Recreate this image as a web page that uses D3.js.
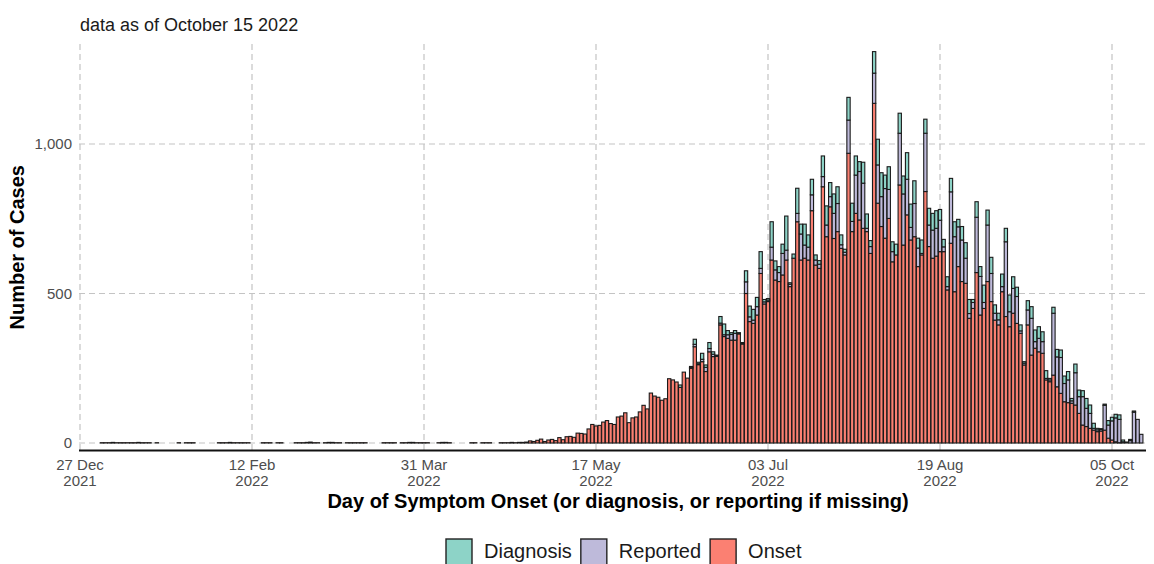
<!DOCTYPE html>
<html>
<head>
<meta charset="utf-8">
<script src="https://cdn.jsdelivr.net/npm/d3@7"></script>
<style>
  body { margin: 0; background: #fff; }
  svg { font-family: "Liberation Sans", Arial, sans-serif; }
</style>
</head>
<body>
<svg id="chart" width="1154" height="564"></svg>
<script>
// daily counts starting 27 Dec 2021, one value per day
var startDate = "2021-12-27";

var onset = [
  0,0,0,0,0,0, 1,1,1,2,1,1,1,1, 1,1,2,1,1,1, 0, 1, 0,0,0,0,0, 1, 0, 1,1,1,
  0,0,0,0,0,0, 1,1,1,2,1,1,1,1,1, 0,0,0, 1,1,1,0,1,1, 0,0,0,
  1,1,1,2,3,1,1,0,1,2,2,1,1,0,1,1,1,1,1,1, 0,0,0,0,
  1,1,1,1,0,1,1,2,2,1,1,1,1, 0,0, 1,2,2,1,0,0, 0,0,0, 1,1,0,1,1,1, 0,0,
  1,1,1,2,1,2,2,3,
  7,5,9,13,5,10,12,8,18,11,21,22,19,33,32,30,47,
  62,57,59,70,75,65,62,87,90,101,68,84,87,104,126,114,167,157,153,143,148,215,211,204,186,237,217,
  250,322,262,272,239,305,289,290,395,356,350,344,344,365,331,500,406,400,428,567,465,473,612,545,540,
  562,612,523,618,740,612,618,612,777,595,584,857,690,790,684,707,651,629,969,707,
  768,746,718,707,634,1136,802,724,685,751,606,629,863,662,763,679,690,590,629,841,657,618,625,640,
  640,512,668,506,590,540,534,417,450,570,428,450,540,473,411,395,506,423,389,434,400,
  367,261,395,294,317,305,300,211,205,227,188,166,138,135,133,127,99,60,55,49,43,38,40,43,16,10,4,1,0,0,0,0,0,0
];

var reported = [].concat(
  d3.range(167).map(function () { return 0; }),
  [2,8,3,8,14,11,8,2,6,6,12,19,23,2,2,39,16,11,28,17,7,5,43,34,30],
  [72,33,8,0,28,87,44,43,53,17,14,34,39,34,84,94,12,9,111,34],
  [128,162,151,11,23,101,128,100,166,97,34,0,173,171,119,42,111,62,5,195,72,94,93,105],
  [16,11,172,184,133,139,84,16,20,185,129,20,189,94,23,17,17,250,50,83,90],
  [8,6,50,123,22,45,39,5,6,207,100,120,61,76,8,108,56,95,61,50,6,6,5,83,44,64,80,78,4,2,8,103,79,29]
);

var diagnosis = [].concat(
  d3.range(164).map(function () { return 0; }),
  [8,0,0],
  [4,17,5,20,8,20,8,2,22,36,14,6,9,2,3,37,36,36,31,56,8,5,85,30,20],
  [31,114,5,14,84,33,70,41,52,17,12,69,64,47,65,56,33,10,76,61],
  [64,33,70,48,20,72,86,80,45,76,33,36,67,60,89,78,76,33,45,47,56,56,59,36],
  [25,33,45,50,25,45,52,47,10,52,33,58,50,54,28,22,42,45,56,39,31],
  [20,5,31,39,39,39,33,26,5,20,25,25,25,28,8,29,22,20,33,28,17,5,3,4,15,12,12,15,6,1,4,4,0,0]
);

var stackKeys = ["Onset", "Reported", "Diagnosis"];
var legendKeys = ["Diagnosis", "Reported", "Onset"];
var colors = { Diagnosis: "#8DD3C7", Reported: "#BEBADA", Onset: "#FB8072" };
var tickDates = ["2021-12-27", "2022-02-12", "2022-03-31", "2022-05-17", "2022-07-03", "2022-08-19", "2022-10-05"];
var yTicks = [0, 500, 1000];

var svg = d3.select("#chart");
var parse = d3.timeParse("%Y-%m-%d");
var start = parse(startDate);

var rows = onset.map(function (v, i) {
  return { date: d3.timeDay.offset(start, i), Onset: v, Reported: reported[i], Diagnosis: diagnosis[i] };
});

var panel = { left: 79, right: 1148, top: 44, bottom: 450.5 };

var x = d3.scaleTime()
  .domain([parse(tickDates[0]), parse(tickDates[tickDates.length - 1])])
  .range([80, 1112]);
var y = d3.scaleLinear().domain([0, 1000]).range([443, 144]);
var dayW = x(d3.timeDay.offset(start, 1)) - x(start);
var barW = dayW * 0.9;

// grid
var grid = svg.append("g").attr("stroke", "#c4c4c4").attr("stroke-width", 1.2).attr("stroke-dasharray", "6,4");
grid.selectAll(".hy").data(yTicks).enter().append("line")
  .attr("x1", panel.left).attr("x2", panel.right)
  .attr("y1", function (d) { return y(d); }).attr("y2", function (d) { return y(d); });
grid.selectAll(".vx").data(tickDates).enter().append("line")
  .attr("y1", panel.top).attr("y2", panel.bottom)
  .attr("x1", function (d) { return x(parse(d)); }).attr("x2", function (d) { return x(parse(d)); });

// stacked bars
var series = d3.stack().keys(stackKeys)(rows);
svg.append("g").selectAll("g").data(series).enter().append("g")
  .attr("fill", function (s) { return colors[s.key]; })
  .attr("stroke", "#1a1a1a").attr("stroke-width", 1.1)
  .selectAll("rect")
  .data(function (s) { return s.filter(function (d) { return d[1] - d[0] > 0; }); })
  .enter().append("rect")
  .attr("x", function (d) { return x(d.data.date) - barW / 2; })
  .attr("width", barW)
  .attr("y", function (d) { return y(d[1]); })
  .attr("height", function (d) { return y(d[0]) - y(d[1]); });

// x axis line
svg.append("line")
  .attr("x1", panel.left).attr("x2", 1146)
  .attr("y1", panel.bottom).attr("y2", panel.bottom)
  .attr("stroke", "#111").attr("stroke-width", 1.8);

// x tick labels
var fmtDay = d3.timeFormat("%d %b"), fmtYear = d3.timeFormat("%Y");
var xt = svg.append("g").attr("fill", "#4d4d4d").attr("font-size", 15).attr("text-anchor", "middle");
tickDates.forEach(function (t) {
  var d = parse(t);
  var txt = xt.append("text").attr("x", x(d)).attr("y", 470);
  txt.append("tspan").attr("x", x(d)).text(fmtDay(d));
  txt.append("tspan").attr("x", x(d)).attr("dy", 16).text(fmtYear(d));
});

// y tick labels
svg.append("g").attr("fill", "#4d4d4d").attr("font-size", 15).attr("text-anchor", "end")
  .selectAll("text").data(yTicks).enter().append("text")
  .attr("x", 72).attr("y", function (d) { return y(d) + 5; })
  .text(function (d) { return d3.format(",")(d); });

// titles
svg.append("text").attr("x", 80).attr("y", 31).attr("font-size", 18).attr("fill", "#1a1a1a")
  .text("data as of October 15 2022");
svg.append("text").attr("x", 618).attr("y", 508)
  .attr("text-anchor", "middle").attr("font-size", 20).attr("font-weight", "bold")
  .text("Day of Symptom Onset (or diagnosis, or reporting if missing)");
svg.append("text")
  .attr("transform", "translate(24," + (panel.top + panel.bottom) / 2 + ") rotate(-90)")
  .attr("text-anchor", "middle").attr("font-size", 20).attr("font-weight", "bold")
  .text("Number of Cases");

// legend
var lg = svg.append("g");
var keySize = 26, cx = 446;
legendKeys.forEach(function (k) {
  lg.append("rect").attr("x", cx).attr("y", 539).attr("width", keySize).attr("height", keySize)
    .attr("fill", colors[k]).attr("stroke", "#222").attr("stroke-width", 1.4);
  var t = lg.append("text").attr("x", cx + keySize + 12).attr("y", 558).attr("font-size", 20).attr("fill", "#1a1a1a").text(k);
  cx += keySize + 12 + t.node().getComputedTextLength() + 9;
});
</script>
</body>
</html>
